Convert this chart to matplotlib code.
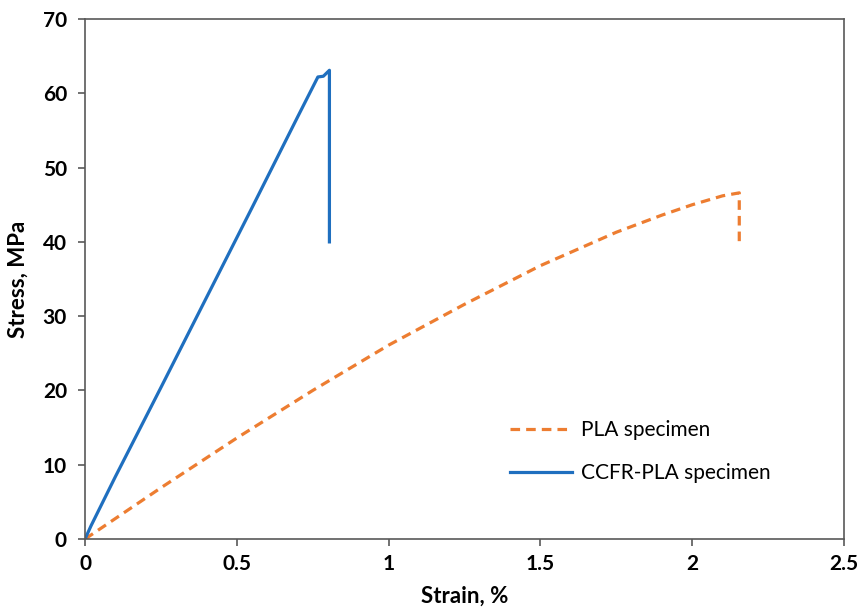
import matplotlib
matplotlib.use('Agg')
import matplotlib.pyplot as plt
from matplotlib.ticker import FuncFormatter

# stress-strain curves
pla_strain = [0, 0.25, 0.5, 0.75, 1.0, 1.25, 1.5, 1.75, 1.9, 2.0, 2.1, 2.155, 2.155]
pla_stress = [0, 6.9, 13.6, 20.0, 26.1, 31.6, 36.8, 41.3, 43.6, 45.0, 46.2, 46.6, 40.0]

ccfr_strain = [0, 0.02, 0.1, 0.25, 0.395, 0.55, 0.7, 0.767, 0.785, 0.805, 0.805]
ccfr_stress = [0, 1.8, 8.4, 20.4, 32.1, 44.6, 56.8, 62.2, 62.3, 63.1, 40.0]

x_ticks = [0, 0.5, 1, 1.5, 2, 2.5]
y_ticks = [0, 10, 20, 30, 40, 50, 60, 70]

plt.rcParams['font.family'] = ['Lato', 'DejaVu Sans']

fig = plt.figure(figsize=(8.58, 6.14), dpi=100)
ax = fig.add_axes([0.0991, 0.1221, 0.8846, 0.8469])

ax.plot(pla_strain, pla_stress, color='#ED7D31', lw=2.3, linestyle=(0, (3.0, 1.9)),
        label='PLA specimen')
ax.plot(ccfr_strain, ccfr_stress, color='#1F6FBF', lw=2.3, label='CCFR-PLA specimen')

ax.set_xlim(0, 2.5)
ax.set_ylim(0, 70)
ax.set_xticks(x_ticks)
ax.set_yticks(y_ticks)
ax.xaxis.set_major_formatter(FuncFormatter(lambda v, p: f'{v:g}'))

for side in ['left', 'bottom', 'top', 'right']:
    ax.spines[side].set_color('#595959')
    ax.spines[side].set_linewidth(1.2)

ax.tick_params(direction='out', length=5, width=1.2, color='#595959', labelsize=15)
ax.tick_params(axis='y', pad=8)
ax.tick_params(axis='x', pad=6)
for lbl in ax.get_xticklabels() + ax.get_yticklabels():
    lbl.set_fontweight('bold')

ax.set_xlabel('Strain, %', fontsize=16, fontweight='bold', labelpad=8)
ax.set_ylabel('Stress, MPa', fontsize=16, fontweight='bold', labelpad=10)

ax.legend(loc='upper left', bbox_to_anchor=(0.535, 0.265), frameon=False, fontsize=15,
          handlelength=3.0, handletextpad=0.4, labelspacing=1.1)

fig.savefig('out.png', dpi=100)
